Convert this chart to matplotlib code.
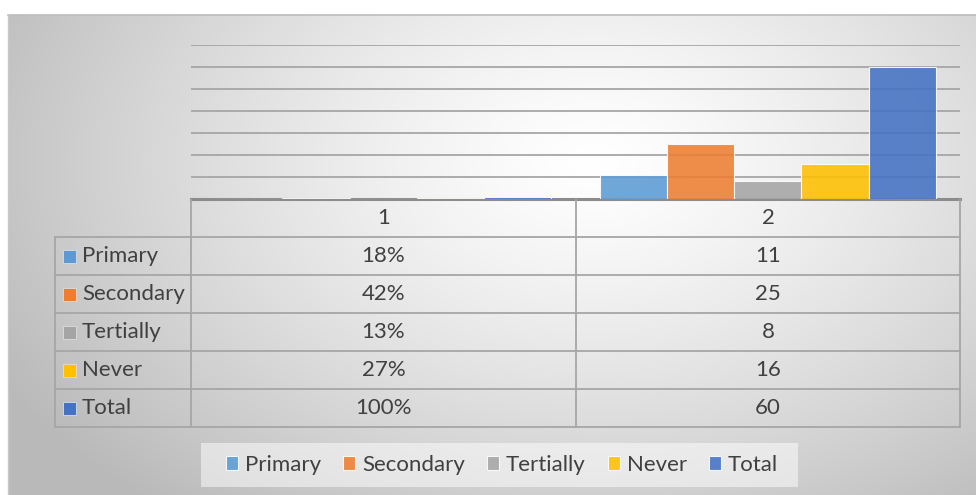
import numpy as np
import matplotlib
matplotlib.use("Agg")
import matplotlib.pyplot as plt
from matplotlib.patches import Rectangle

# --- data -------------------------------------------------------------------
categories = ["1", "2"]
series = ["Primary", "Secondary", "Tertially", "Never", "Total"]
primary = [0.18, 11]
secondary = [0.42, 25]
tertially = [0.13, 8]
never = [0.27, 16]
total = [1.00, 60]
values = [primary, secondary, tertially, never, total]
colors = ["#5b9bd5", "#ed7d31", "#a5a5a5", "#ffc000", "#4472c4"]

W, H = 976, 495
TEXT = "#404040"
FS = 16
plt.rcParams["font.family"] = ["Lato", "DejaVu Sans"]

fig = plt.figure(figsize=(W / 100, H / 100), dpi=100)

# --- background: radial grey gradient in pixel coordinates -------------------
ov = fig.add_axes([0, 0, 1, 1])
ov.set_xlim(0, W)
ov.set_ylim(H, 0)
ov.axis("off")
yy, xx = np.mgrid[0:H, 0:W]
r = np.sqrt(((xx - 590) / 620.0) ** 2 + ((yy - 150) / 420.0) ** 2)
shade = 1.0 - 0.24 * np.clip(r, 0, 1.1) ** 1.3
img = np.dstack([shade] * 3)
ov.imshow(img, extent=(8, W, H, 15), aspect="auto", zorder=0)
ov.plot([8, W], [15, 15], color="#bcbcbc", lw=1.2, zorder=1)
ov.plot([8, 8], [15, H], color="#c8c8c8", lw=1.0, zorder=1)

# --- clustered bars ---------------------------------------------------------
PL, PR, PT, PB = 191, 960, 45, 199
ax = fig.add_axes([PL / W, 1 - PB / H, (PR - PL) / W, (PB - PT) / H])
ax.set_facecolor("none")
x = np.arange(len(categories))
bw = 0.175
for i, (name, vals, c) in enumerate(zip(series, values, colors)):
    ax.bar(x + (i - 2) * bw, vals, width=bw, color=c, alpha=0.88,
           edgecolor="white", linewidth=0.8, label=name, zorder=3)
ax.set_xlim(-0.5, 1.5)
ax.set_ylim(0, 70)
ax.set_yticks(np.arange(10, 71, 10))
ax.yaxis.grid(True, color="#a6a6a6", lw=1.3, zorder=1)
ax.set_axisbelow(True)
ax.tick_params(left=False, bottom=False, labelleft=False, labelbottom=False)
for s in ax.spines.values():
    s.set_visible(False)

# --- data table ---------------------------------------------------------------
LC = "#a6a6a6"
rows_y = [237, 275, 313, 351, 389, 427]
col_x = [191, 576, 960]
ov.plot([PL, PR], [199, 199], color="#8c8c8c", lw=2.2, zorder=5)
for y in rows_y:
    ov.plot([55, PR], [y, y], color=LC, lw=1.3, zorder=5)
for cx in col_x:
    ov.plot([cx, cx], [200, 427], color=LC, lw=1.3, zorder=5)
ov.plot([55, 55], [237, 427], color=LC, lw=1.3, zorder=5)

col_centers = [(col_x[0] + col_x[1]) / 2, (col_x[1] + col_x[2]) / 2]
for cc, cat in zip(col_centers, categories):
    ov.text(cc, 218, cat, ha="center", va="center", fontsize=FS, color=TEXT, zorder=6)

for k, (name, vals, c) in enumerate(zip(series, values, colors)):
    yc = (rows_y[k] + rows_y[k + 1]) / 2
    ov.add_patch(Rectangle((63, yc - 6), 13, 13, facecolor=c, edgecolor="#dddddd",
                           lw=0.6, zorder=6))
    ov.text(82, yc, name, ha="left", va="center", fontsize=FS, color=TEXT, zorder=6)
    ov.text(col_centers[0], yc, f"{vals[0]:.0%}", ha="center", va="center",
            fontsize=FS, color=TEXT, zorder=6)
    ov.text(col_centers[1], yc, f"{vals[1]:g}", ha="center", va="center",
            fontsize=FS, color=TEXT, zorder=6)

# --- legend ---------------------------------------------------------------------
ov.add_patch(Rectangle((201, 443), 597, 44, facecolor="white", alpha=0.5,
                       edgecolor="none", zorder=2))
handles, labels = ax.get_legend_handles_labels()
fig.legend(handles, labels, loc="center", bbox_to_anchor=(502 / W, 1 - 465 / H),
           ncol=5, frameon=False, fontsize=FS, handlelength=0.55, handleheight=0.55,
           handletextpad=0.3, columnspacing=1.0, labelcolor=TEXT)

fig.savefig("out.png", dpi=100)
